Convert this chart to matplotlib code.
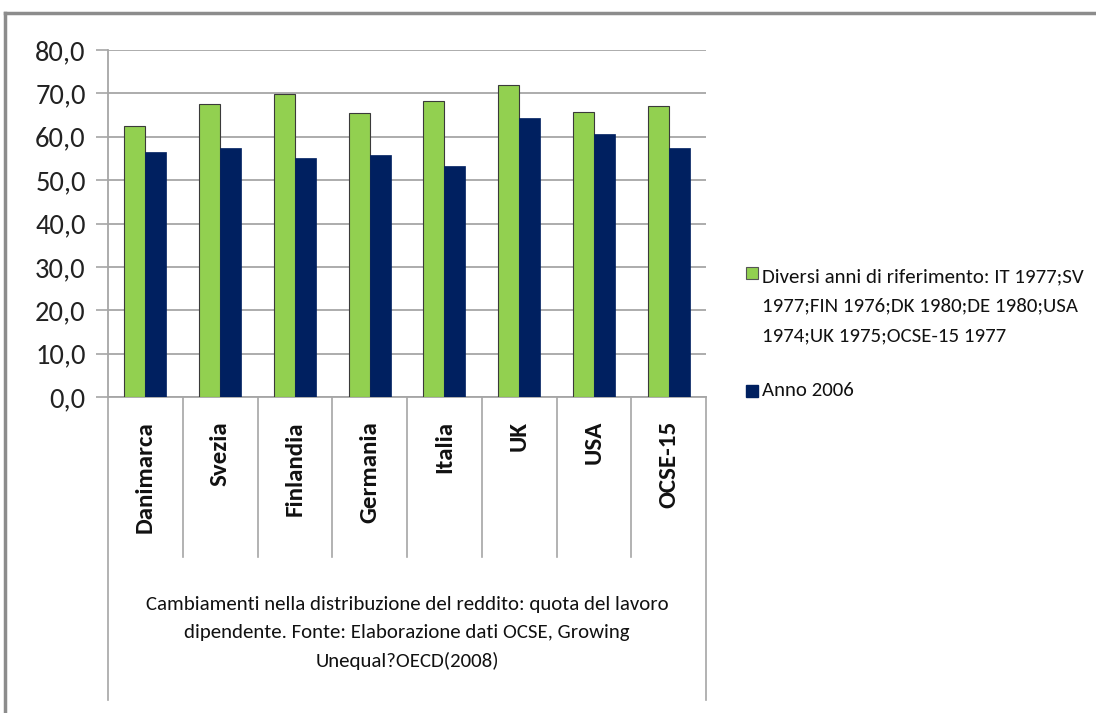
import matplotlib
matplotlib.use('Agg')
import matplotlib.pyplot as plt
from matplotlib.patches import Rectangle
from matplotlib.lines import Line2D
import numpy as np

# data
paesi = ['Danimarca', 'Svezia', 'Finlandia', 'Germania', 'Italia', 'UK', 'USA', 'OCSE-15']
anni_rif = [62.4, 67.5, 69.8, 65.4, 68.3, 71.9, 65.8, 67.2]
anno_2006 = [56.5, 57.5, 55.1, 55.8, 53.2, 64.4, 60.7, 57.5]
yticks = [0, 10, 20, 30, 40, 50, 60, 70, 80]

label_rif = 'Diversi anni di riferimento: IT 1977;SV\n1977;FIN 1976;DK 1980;DE 1980;USA\n1974;UK 1975;OCSE-15 1977'
label_2006 = 'Anno 2006'
titolo = ('Cambiamenti nella distribuzione del reddito: quota del lavoro\n'
          'dipendente. Fonte: Elaborazione dati OCSE, Growing\n'
          'Unequal?OECD(2008)')

GREEN = '#92d050'
NAVY = '#002060'
GRID = '#a6a6a6'
FONT = ['Carlito', 'DejaVu Sans']
plt.rcParams['font.family'] = FONT

W, H = 1096, 713
fig = plt.figure(figsize=(W / 100, H / 100), dpi=100)
ax = fig.add_axes([108 / W, 1 - 397 / H, (706 - 108) / W, (397 - 50) / H])

x = np.arange(len(paesi))
bw = 0.28
ax.bar(x - bw / 2, anni_rif, bw, color=GREEN, edgecolor='#3a3a3a', linewidth=0.8, zorder=3)
ax.bar(x + bw / 2, anno_2006, bw, color=NAVY, edgecolor=NAVY, linewidth=0.5, zorder=3)

ax.set_xlim(-0.5, len(paesi) - 0.5)
ax.set_ylim(0, 80)
ax.set_yticks(yticks)
ax.set_yticklabels([f'{v:.1f}'.replace('.', ',') for v in yticks], fontsize=20.5, color='#222222')
ax.tick_params(axis='y', length=9, color=GRID, pad=7, width=1.2)
ax.set_xticks([])
ax.yaxis.grid(True, color=GRID, linewidth=1.3, zorder=0)
for s in ['top', 'right']:
    ax.spines[s].set_visible(False)
ax.spines['left'].set_color(GRID)
ax.spines['bottom'].set_color(GRID)
ax.spines['left'].set_linewidth(1.3)
ax.spines['bottom'].set_linewidth(1.3)

# category separators below the axis (excel style)
trans = ax.get_xaxis_transform()
y_sep = -(557 - 397) / (397 - 50)
y_out = -(700 - 397) / (397 - 50)
for i in range(len(paesi) + 1):
    bottom = y_out if i in (0, len(paesi)) else y_sep
    ax.add_line(Line2D([i - 0.5, i - 0.5], [0, bottom], transform=trans, color=GRID,
                       linewidth=1.2, clip_on=False))

y_lab = -(421 - 397) / (397 - 50)
for i, p in enumerate(paesi):
    ax.text(i, y_lab, p, transform=trans, rotation=90, ha='center', va='top',
            fontsize=18, fontweight='bold', color='#111111')

ax.text((len(paesi) - 1) / 2, -(633 - 397) / (397 - 50), titolo, transform=trans,
        ha='center', va='center', fontsize=15, linespacing=1.72, color='#111111')

# legend drawn by hand so the marker sits on the first line
sq = 12
fig.patches.append(Rectangle((746 / W, 1 - 279 / H), sq / W, sq / H, transform=fig.transFigure,
                             facecolor=GREEN, edgecolor='#555555', linewidth=0.8))
fig.text(762 / W, 1 - 306 / H, label_rif, ha='left', va='center', fontsize=15,
         linespacing=1.9, color='#111111')
fig.patches.append(Rectangle((746 / W, 1 - 397 / H), sq / W, sq / H, transform=fig.transFigure,
                             facecolor=NAVY, edgecolor=NAVY))
fig.text(762 / W, 1 - 390 / H, label_2006, ha='left', va='center', fontsize=15, color='#111111')

# outer chart border
fig.add_artist(Line2D([5 / W, 1], [1 - 13 / H, 1 - 13 / H], transform=fig.transFigure,
                      color='#8c8c8c', linewidth=2.5))
fig.add_artist(Line2D([5 / W, 5 / W], [0, 1 - 13 / H], transform=fig.transFigure,
                      color='#8c8c8c', linewidth=2.5))

fig.savefig('out.png', dpi=100)
